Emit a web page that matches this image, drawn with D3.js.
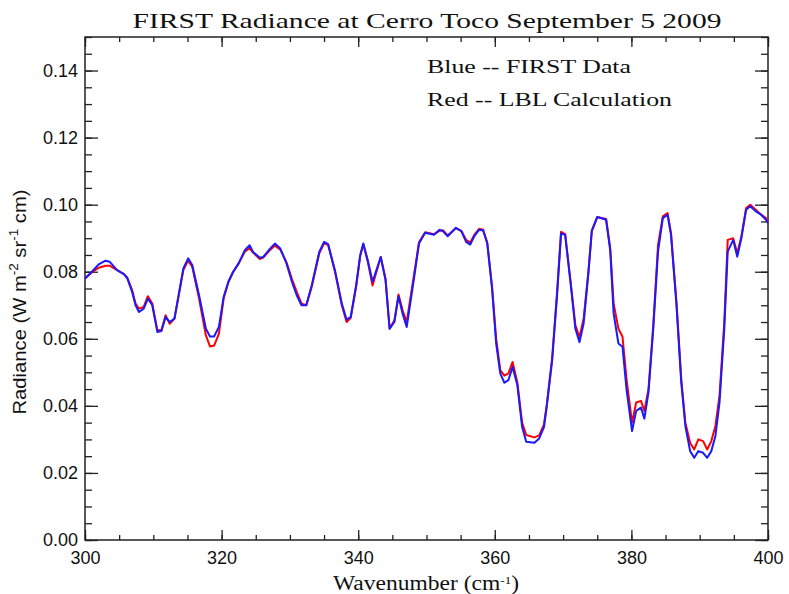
<!DOCTYPE html>
<html lang="en">
<head>
<meta charset="UTF-8">
<title>FIRST Radiance at Cerro Toco</title>
<script src="https://cdnjs.cloudflare.com/ajax/libs/d3/7.8.5/d3.min.js"></script>
<style>
  body { margin: 0; background: #fff; }
  svg { display: block; }
  .hershey { font-family: 'Liberation Serif', 'DejaVu Serif', serif; fill: #111; }
  .sans { font-family: 'Liberation Sans', Arial, sans-serif; fill: #111; }
  .tick line { stroke: #222; stroke-width: 1.3px; }
  .tick text { font-family: 'Liberation Sans', Arial, sans-serif; font-size: 18px; fill: #111; }
</style>
</head>
<body>
<div id="chart"></div>
<script>
// wavenumber (cm^-1) of each sample
const wavenumber = [
  300.0, 301.0, 302.0, 303.0, 303.6, 304.7, 305.7, 306.2, 306.9, 307.4,
  307.9, 308.6, 309.2, 309.85, 310.6, 311.2, 311.8, 312.4, 313.1, 314.4,
  315.1, 315.7, 316.7, 317.7, 318.3, 318.9, 319.6, 320.3, 321.0, 321.7,
  322.5, 323.4, 324.1, 324.6, 325.6, 326.1, 327.1, 327.8, 328.6, 329.5,
  330.3, 331.0, 331.7, 332.4, 333.2, 334.3, 335.0, 335.6, 336.6, 337.6,
  338.3, 338.9, 339.7, 340.3, 340.75, 341.4, 342.1, 343.3, 344.0, 344.6,
  345.3, 345.9, 346.5, 347.1, 348.2, 348.9, 349.8, 351.1, 351.9, 352.4,
  353.1, 354.3, 355.1, 355.8, 356.4, 357.0, 357.7, 358.3, 358.9, 359.6,
  360.2, 360.8, 361.4, 362.0, 362.6, 363.3, 364.0, 364.6, 365.8, 366.5,
  367.2, 367.6, 368.4, 369.1, 369.7, 370.3, 371.1, 371.8, 372.4, 373.0,
  373.7, 374.2, 375.0, 376.3, 376.9, 377.4, 378.1, 378.7, 379.3, 380.1,
  380.7, 381.4, 381.9, 382.5, 383.2, 383.9, 384.6, 385.3, 385.8, 386.6,
  387.3, 387.9, 388.6, 389.2, 389.8, 390.5, 391.1, 391.7, 392.3, 392.9,
  393.6, 394.1, 394.9, 395.5, 396.1, 396.8, 397.4, 398.2, 399.0, 399.7,
  400.0
];

// Blue -- FIRST Data
const firstData = [
  0.0780, 0.0800, 0.0822, 0.0833, 0.0830, 0.0805, 0.0793, 0.0780, 0.0740, 0.0700,
  0.0680, 0.0690, 0.0720, 0.0700, 0.0620, 0.0623, 0.0665, 0.0650, 0.0660, 0.0810,
  0.0840, 0.0820, 0.0730, 0.0630, 0.0607, 0.0607, 0.0635, 0.0725, 0.0770, 0.0800,
  0.0825, 0.0864, 0.0879, 0.0859, 0.0842, 0.0844, 0.0869, 0.0884, 0.0869, 0.0825,
  0.0770, 0.0730, 0.0700, 0.0700, 0.0760, 0.0859, 0.0889, 0.0882, 0.0804, 0.0705,
  0.0657, 0.0665, 0.0760, 0.0850, 0.0884, 0.0834, 0.0770, 0.0844, 0.0775, 0.0630,
  0.0650, 0.0727, 0.0675, 0.0635, 0.0784, 0.0884, 0.0916, 0.0910, 0.0925, 0.0921,
  0.0906, 0.0931, 0.0921, 0.0889, 0.0881, 0.0906, 0.0925, 0.0923, 0.0884, 0.0750,
  0.0586, 0.0497, 0.0469, 0.0477, 0.0516, 0.0462, 0.0337, 0.0293, 0.0290, 0.0303,
  0.0337, 0.0397, 0.0536, 0.0725, 0.0914, 0.0910, 0.0765, 0.0630, 0.0590, 0.0645,
  0.0794, 0.0923, 0.0963, 0.0955, 0.0864, 0.0675, 0.0586, 0.0576, 0.0447, 0.0325,
  0.0385, 0.0395, 0.0362, 0.0440, 0.0630, 0.0860, 0.0960, 0.0970, 0.0910, 0.0700,
  0.0470, 0.0340, 0.0265, 0.0245, 0.0265, 0.0260, 0.0245, 0.0265, 0.0310, 0.0410,
  0.0630, 0.0860, 0.0895, 0.0845, 0.0900, 0.0985, 0.0995, 0.0980, 0.0970, 0.0955,
  0.0945
];

// Red -- LBL Calculation
const lblCalc = [
  0.0780, 0.0798, 0.0812, 0.0818, 0.0818, 0.0805, 0.0793, 0.0782, 0.0745, 0.0705,
  0.0690, 0.0695, 0.0727, 0.0705, 0.0625, 0.0627, 0.0670, 0.0645, 0.0660, 0.0805,
  0.0833, 0.0815, 0.0720, 0.0610, 0.0577, 0.0580, 0.0615, 0.0720, 0.0770, 0.0800,
  0.0825, 0.0860, 0.0870, 0.0857, 0.0838, 0.0842, 0.0865, 0.0878, 0.0866, 0.0828,
  0.0778, 0.0740, 0.0705, 0.0700, 0.0755, 0.0855, 0.0885, 0.0880, 0.0800, 0.0700,
  0.0650, 0.0662, 0.0755, 0.0848, 0.0882, 0.0830, 0.0759, 0.0844, 0.0780, 0.0630,
  0.0655, 0.0732, 0.0685, 0.0650, 0.0795, 0.0888, 0.0918, 0.0912, 0.0922, 0.0924,
  0.0908, 0.0930, 0.0922, 0.0895, 0.0887, 0.0910, 0.0928, 0.0925, 0.0886, 0.0755,
  0.0600, 0.0507, 0.0490, 0.0497, 0.0531, 0.0470, 0.0350, 0.0313, 0.0306, 0.0312,
  0.0345, 0.0402, 0.0545, 0.0735, 0.0919, 0.0912, 0.0770, 0.0640, 0.0605, 0.0660,
  0.0800, 0.0920, 0.0963, 0.0957, 0.0870, 0.0705, 0.0630, 0.0606, 0.0477, 0.0350,
  0.0410, 0.0415, 0.0385, 0.0450, 0.0640, 0.0880, 0.0965, 0.0975, 0.0915, 0.0710,
  0.0480, 0.0350, 0.0290, 0.0270, 0.0300, 0.0295, 0.0270, 0.0295, 0.0340, 0.0430,
  0.0650, 0.0895, 0.0900, 0.0855, 0.0905, 0.0990, 0.1000, 0.0985, 0.0970, 0.0960,
  0.0950
];

const xTicks = [300, 320, 340, 360, 380, 400];
const yTicks = [0.00, 0.02, 0.04, 0.06, 0.08, 0.10, 0.12, 0.14];

const width = 789, height = 594;
const margin = {top: 37, right: 21, bottom: 54, left: 85};
const plotW = width - margin.left - margin.right;
const plotH = height - margin.top - margin.bottom;

const svg = d3.select("#chart").append("svg")
    .attr("width", width)
    .attr("height", height);

const g = svg.append("g")
    .attr("transform", `translate(${margin.left},${margin.top})`);

const x = d3.scaleLinear().domain([300, 400]).range([0, plotW]);
const y = d3.scaleLinear().domain([0, 0.15]).range([plotH, 0]);

// minor ticks (inward), then major ticks with labels
const xMinor = d3.range(300, 401, 5);
const yMinor = d3.range(0, 0.1501, 0.005);

g.append("g").attr("transform", `translate(0,${plotH})`)
    .call(d3.axisBottom(x).tickValues(xMinor).tickSize(-5).tickFormat(""));
g.append("g")
    .call(d3.axisTop(x).tickValues(xMinor).tickSize(-5).tickFormat(""));
g.append("g").attr("transform", `translate(0,${plotH})`)
    .call(d3.axisBottom(x).tickValues(xTicks).tickSize(-10).tickPadding(11).tickFormat(d3.format("d")));
g.append("g")
    .call(d3.axisTop(x).tickValues(xTicks).tickSize(-10).tickFormat(""));

g.append("g")
    .call(d3.axisLeft(y).tickValues(yMinor).tickSize(-7).tickFormat(""));
g.append("g").attr("transform", `translate(${plotW},0)`)
    .call(d3.axisRight(y).tickValues(yMinor).tickSize(-7).tickFormat(""));
g.append("g")
    .call(d3.axisLeft(y).tickValues(yTicks).tickSize(-13).tickPadding(7).tickFormat(d3.format(".2f")));
g.append("g").attr("transform", `translate(${plotW},0)`)
    .call(d3.axisRight(y).tickValues(yTicks).tickSize(-13).tickFormat(""));

g.selectAll(".domain").remove();

// frame
g.append("rect")
    .attr("width", plotW).attr("height", plotH)
    .attr("fill", "none").attr("stroke", "#222").attr("stroke-width", 1.5);

// curves
const line = d3.line()
    .x((d, i) => x(wavenumber[i]))
    .y(d => y(d));

g.append("path").datum(lblCalc)
    .attr("fill", "none").attr("stroke", "#ff0000").attr("stroke-width", 2)
    .attr("stroke-linejoin", "round")
    .attr("d", line);

g.append("path").datum(firstData)
    .attr("fill", "none").attr("stroke", "#1a1aff").attr("stroke-width", 2)
    .attr("stroke-linejoin", "round")
    .attr("d", line);

// title
svg.append("text").attr("class", "hershey")
    .attr("x", 427).attr("y", 28)
    .attr("text-anchor", "middle")
    .attr("font-size", 22)
    .attr("textLength", 589).attr("lengthAdjust", "spacingAndGlyphs")
    .text("FIRST Radiance at Cerro Toco September 5 2009");

// legend text
svg.append("text").attr("class", "hershey")
    .attr("x", 427).attr("y", 73).attr("font-size", 18)
    .attr("textLength", 204).attr("lengthAdjust", "spacingAndGlyphs")
    .text("Blue -- FIRST Data");
svg.append("text").attr("class", "hershey")
    .attr("x", 427).attr("y", 106).attr("font-size", 18)
    .attr("textLength", 245).attr("lengthAdjust", "spacingAndGlyphs")
    .text("Red -- LBL Calculation");

// x axis title
const xt = svg.append("text").attr("class", "hershey")
    .attr("x", 426).attr("y", 590)
    .attr("text-anchor", "middle").attr("font-size", 20)
    .attr("textLength", 186).attr("lengthAdjust", "spacingAndGlyphs");
xt.append("tspan").text("Wavenumber (cm");
xt.append("tspan").attr("dy", -6).attr("font-size", 11).text("-1");
xt.append("tspan").attr("dy", 6).text(")");

// y axis title
const yt = svg.append("text").attr("class", "sans")
    .attr("transform", "translate(26,302) rotate(-90)")
    .attr("text-anchor", "middle").attr("font-size", 18)
    .attr("textLength", 225).attr("lengthAdjust", "spacingAndGlyphs");
yt.append("tspan").text("Radiance (W m");
yt.append("tspan").attr("dy", -8).attr("font-size", 12).text("-2");
yt.append("tspan").attr("dy", 8).text(" sr");
yt.append("tspan").attr("dy", -8).attr("font-size", 12).text("-1");
yt.append("tspan").attr("dy", 8).text(" cm)");
</script>
</body>
</html>
